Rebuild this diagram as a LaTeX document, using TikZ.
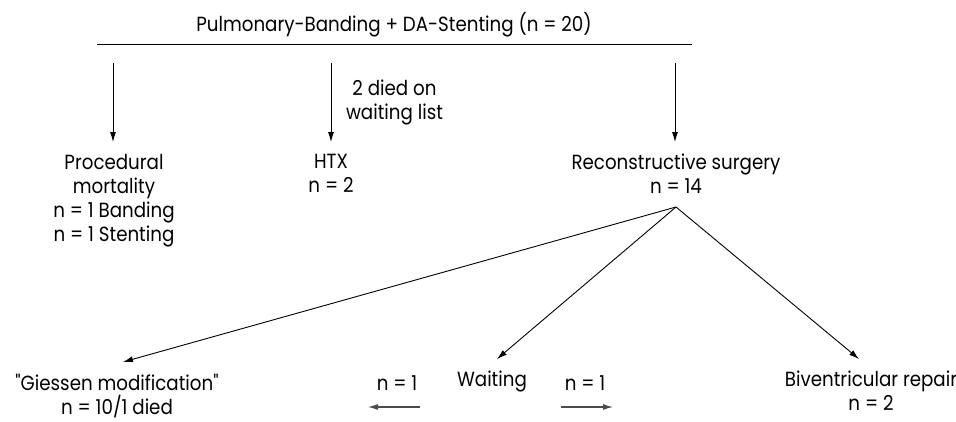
\documentclass[tikz,border=0pt]{standalone}
\usepackage{fontspec}
\setmainfont{Poppins}[Ligatures=TeXOff, FakeStretch=0.89]
\usetikzlibrary{arrows.meta,calc}
\begin{document}
\begin{tikzpicture}[x=1pt,y=-1pt,
  txt/.style={font=\fontsize{20.5}{24}\selectfont, align=center, inner sep=0pt, outer sep=0pt, text=black},
  link/.style={line width=0.9pt, -{Latex[length=10pt,width=6pt]}},
  side/.style={line width=1.1pt, draw=black!70, -{Latex[length=10pt,width=6pt]}}]
\useasboundingbox (0,0) rectangle (956,421);

% heading and the bar beneath it
\node[txt, anchor=base] (title) at (394,31) {Pulmonary-Banding + DA-Stenting (n = 20)};
\coordinate (barL) at (97,44);
\coordinate (barR) at (692,44);
\draw[line width=0.9pt] (barL) -- (barR);

% first level
\node[txt, anchor=north, inner ysep=12pt] (proc) at (114,142) {Procedural\\mortality\\n = 1 Banding\\n = 1 Stenting};
\node[txt, anchor=north, inner ysep=12pt] (htx) at (331,142) {HTX\\n = 2};
\node[txt, anchor=north, inner ysep=12pt] (recon) at (676,142) {Reconstructive surgery\\n = 14};

\coordinate (s1) at (113,63);
\coordinate (s2) at (331,63);
\coordinate (s3) at (675,63);
\draw[link] (s1) -- (proc.north -| s1);
\draw[link] (s2) -- (htx.north) node[midway, anchor=west, txt, xshift=15pt] (died) {2 died on\\waiting list};
\draw[link] (s3) -- (recon.north -| s3);

% second level
\coordinate (apex) at (676,207);
\node[txt, anchor=north, inner ysep=12pt] (giessen) at (117,362) {"Giessen modification"\\n = 10/1 died};
\node[txt, anchor=north, inner ysep=12pt] (wait) at (492,359) {Waiting};
\node[txt, anchor=north, inner ysep=12pt] (biv) at (871,359) {Biventricular repair\\n = 2};
\node[txt, anchor=base] (nl) at (397,390) {n = 1};
\node[txt, anchor=base] (nr) at (585,390) {n = 1};

\draw[link] (apex) -- ($(giessen.north)+(6,0)$);
\draw[link] (apex) -- ($(wait.north)+(5,0)$);
\draw[link] (apex) -- ($(biv.north)+(-12,0)$);

% side transfers out of the waiting group
\coordinate (l1) at (420,407);
\coordinate (l2) at (368,407);
\coordinate (r1) at (561,407);
\coordinate (r2) at (613,407);
\draw[side] (l1) -- (l2);
\draw[side] (r1) -- (r2);
\end{tikzpicture}
\end{document}
